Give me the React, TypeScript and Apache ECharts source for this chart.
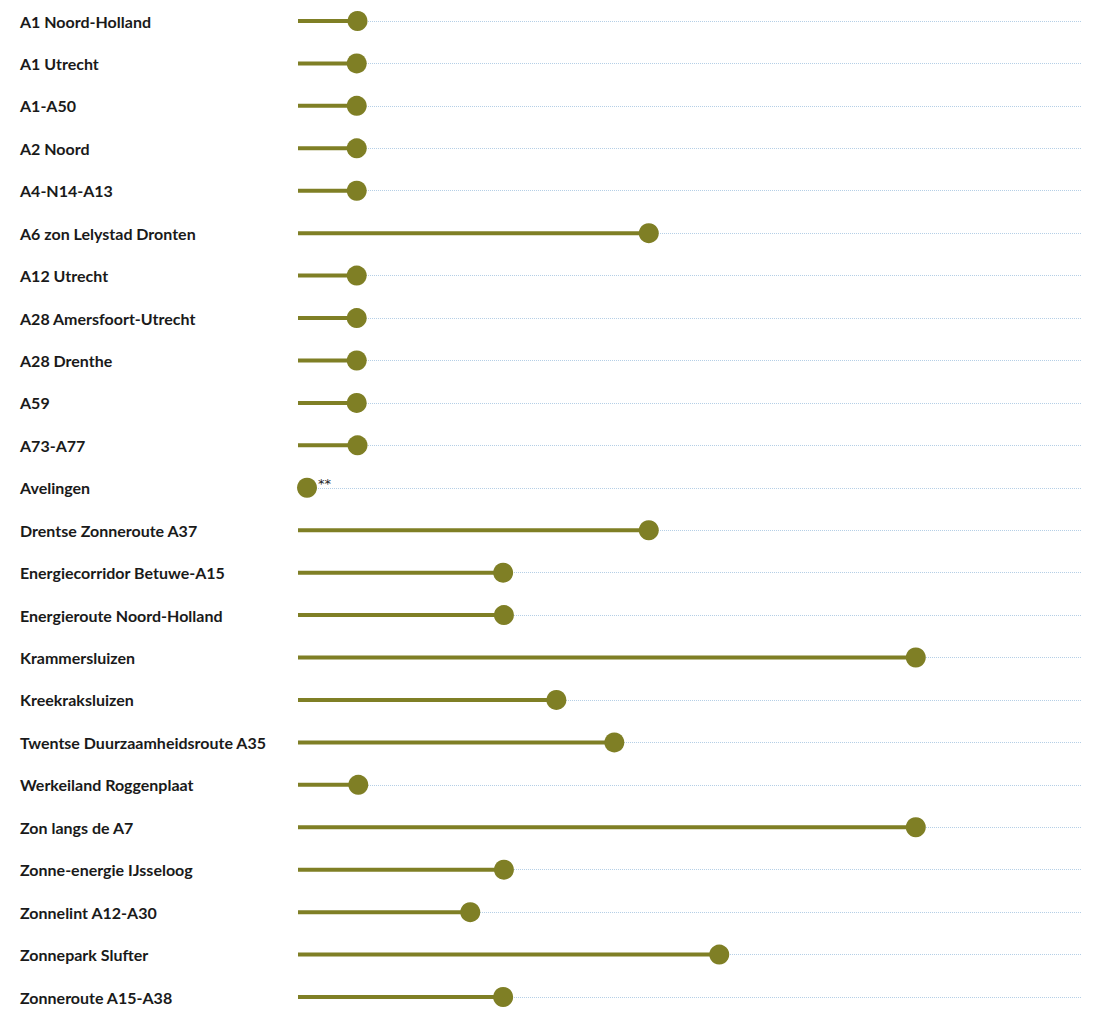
import React, { useEffect, useRef } from "react";
import * as echarts from "echarts";

const categories = [
  "A1 Noord-Holland",
  "A1 Utrecht",
  "A1-A50",
  "A2 Noord",
  "A4-N14-A13",
  "A6 zon Lelystad Dronten",
  "A12 Utrecht",
  "A28 Amersfoort-Utrecht",
  "A28 Drenthe",
  "A59",
  "A73-A77",
  "Avelingen",
  "Drentse Zonneroute A37",
  "Energiecorridor Betuwe-A15",
  "Energieroute Noord-Holland",
  "Krammersluizen",
  "Kreekraksluizen",
  "Twentse Duurzaamheidsroute A35",
  "Werkeiland Roggenplaat",
  "Zon langs de A7",
  "Zonne-energie IJsseloog",
  "Zonnelint A12-A30",
  "Zonnepark Slufter",
  "Zonneroute A15-A38",
];

const values = [
  7.6, 7.5, 7.5, 7.5, 7.5, 44.8, 7.5, 7.5, 7.5, 7.5, 7.6, 1.15, 44.8, 26.2,
  26.3, 78.9, 33.0, 40.4, 7.7, 78.9, 26.3, 22.0, 53.8, 26.2,
];

const notes = ["", "", "", "", "", "", "", "", "", "", "", "**", "", "", "", "", "", "", "", "", "", "", "", ""];

const axisMax = 100;

export default function App() {
  const ref = useRef<HTMLDivElement>(null);
  useEffect(() => {
    if (!ref.current) return;
    const chart = echarts.init(ref.current, null, { renderer: "svg" });
    const olive = "#7f7f25";
    chart.setOption({
      animation: false,
      grid: { left: 298, right: 20, top: 21, bottom: 12, containLabel: false },
      xAxis: {
        type: "value",
        min: 0,
        max: axisMax,
        show: false,
        splitLine: { show: false },
      },
      yAxis: {
        type: "category",
        data: categories,
        inverse: true,
        boundaryGap: false,
        axisLine: { show: false },
        axisTick: { show: false },
        splitLine: {
          show: true,
          lineStyle: { color: "#b5cfe6", type: "dotted", width: 1 },
        },
        axisLabel: {
          align: "left",
          margin: 278,
          fontFamily: "Lato",
          fontWeight: "bold",
          fontSize: 16,
          color: "#1a1a1a",
        },
      },
      series: [
        {
          type: "bar",
          data: values,
          barWidth: 4,
          itemStyle: { color: olive },
          z: 2,
        },
        {
          type: "scatter",
          data: values.map((v, i) => ({
            value: [v, categories[i]],
            label: notes[i]
              ? {
                  show: true,
                  formatter: notes[i],
                  position: "right",
                  distance: 0,
                  offset: [1, -4],
                  fontSize: 13,
                  color: "#222222",
                  fontFamily: "DejaVu Sans",
                }
              : { show: false },
          })),
          symbol: "circle",
          symbolSize: 20,
          itemStyle: { color: olive, opacity: 1 },
          z: 3,
        },
      ],
    });
    return () => chart.dispose();
  }, []);
  return (
    <div
      ref={ref}
      style={{ position: "absolute", left: 0, top: 0, width: 1101, height: 1009 }}
    />
  );
}
